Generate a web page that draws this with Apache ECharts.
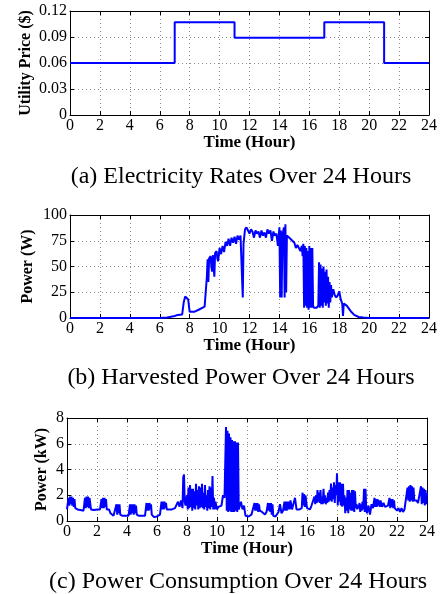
<!DOCTYPE html>
<html><head><meta charset="utf-8">
<script src="https://cdn.jsdelivr.net/npm/echarts@6/dist/echarts.min.js"></script>
<style>html,body{margin:0;padding:0;background:#fff}#c{width:440px;height:594px}</style>
</head><body><div id="c"></div>
<script>
// ---------- data ----------
const captions = ['(a) Electricity Rates Over 24 Hours', '(b) Harvested Power Over 24 Hours', '(c) Power Consumption Over 24 Hours'];
const yNames = ['Utility Price ($)', 'Power (W)', 'Power (kW)'];
const xName = 'Time (Hour)';
const hourRange = [0, 24, 2];           // min, max, tick step
const priceRange = [0, 0.12, 0.03];
const harvestRange = [0, 100, 25];
const consumptionRange = [0, 8, 2];

// utility price: [hour, $] (step changes)
const priceSteps = [[0, 0.06], [7, 0.107], [11, 0.089], [17, 0.107], [21, 0.06], [24, 0.06]];

// harvested power: [hour, W]
const harvestPower = [
 [0,0],[6,0],[6.5,0.5],[7,2],[7.2,3],[7.5,3.5],[7.6,15],[7.7,21],[7.8,22],[7.9,18],[8,6],[8.3,6],[8.6,8],[9,11],[9.1,12],
 [9.15,40],[9.2,57],[9.25,35],[9.3,58],[9.4,60],[9.45,50],[9.5,45],[9.55,61],[9.6,62],[9.65,40],[9.7,63],[9.8,65],[9.85,58],[9.9,55],
 [10,68],[10.1,62],[10.2,70],[10.3,64],[10.4,74],[10.5,70],[10.6,77],[10.7,70],[10.8,78],[10.9,73],[11,79],[11.1,72],[11.2,80],
 [11.3,76],[11.4,80],[11.5,81],[11.55,20],[11.6,72],[11.7,86],[11.8,88],[11.9,87],[12,82],[12.1,86],[12.2,84],[12.3,78],[12.4,85],
 [12.5,82],[12.6,84],[12.7,78],[12.8,85],[12.9,80],[13,83],[13.1,78],[13.2,86],[13.3,82],[13.4,85],[13.5,75],[13.6,84],[13.7,80],
 [13.8,82],[13.9,70],[14,88],[14.05,20],[14.1,85],[14.15,20],[14.2,80],[14.3,88],[14.35,20],[14.4,91],[14.45,25],[14.5,80],
 [14.6,79],[14.8,76],[15,73],[15.1,68],[15.2,71],[15.3,72],[15.4,65],[15.5,70],[15.55,60],[15.6,72],[15.65,10],[15.7,70],[15.75,12],
 [15.8,68],[15.85,10],[15.9,65],[15.95,8],[16,70],[16.05,10],[16.1,68],[16.15,10],[16.2,68],[16.25,12],[16.3,10],[16.4,11],[16.5,10],
 [16.6,12],[16.65,54],[16.7,10],[16.75,52],[16.8,12],[16.85,48],[16.9,10],[16.95,50],[17,15],[17.05,45],[17.1,12],[17.15,47],
 [17.2,14],[17.25,40],[17.3,10],[17.35,35],[17.4,15],[17.45,32],[17.5,20],[17.6,28],[17.7,22],[17.8,20],[17.9,22],[18,26],
 [18.1,18],[18.2,14],[18.25,2],[18.3,14],[18.5,12],[18.8,6],[19,3],[19.3,1],[19.6,0.5],[20,0],[24,0]
];

// power consumption: kW sampled every 0.1 hour from 0 to 24
const consumptionStepHours = 0.1;
const consumptionKW = [
 0.9,1.8,1.9,1.9,1.8,1.7,1.0,0.9,0.9,0.85,
 0.8,0.8,1.8,1.9,1.9,1.8,0.9,0.9,0.85,0.9,
 0.9,0.85,0.9,1.7,1.8,1.8,1.7,0.9,0.9,0.6,
 0.5,0.4,0.5,1.3,1.3,1.3,0.5,0.4,0.3,0.4,
 0.3,0.4,1.3,1.3,1.3,1.3,1.2,0.4,0.4,0.3,
 0.4,0.35,0.4,1.4,1.4,1.4,1.3,0.4,0.3,0.4,
 0.35,0.4,0.5,1.5,1.5,1.5,1.4,0.9,0.9,0.95,
 0.9,1.0,1.0,0.9,1.5,1.1,1.6,1.0,3.6,1.2,
 2.0,2.6,2.8,2.5,2.5,2.3,2.9,2.4,2.7,2.6,
 2.9,2.2,2.8,2.0,2.4,2.7,2.6,3.5,1.8,1.5,
 0.9,1.1,1.0,1.2,2.0,1.8,7.3,7.0,6.8,6.5,
 6.3,6.2,6.2,6.1,6.1,1.0,1.5,0.9,1.2,0.4,
 0.3,0.35,0.4,0.5,0.4,1.4,1.4,1.4,1.3,0.9,
 0.7,0.6,0.5,0.7,1.4,1.4,1.4,1.3,0.3,0.35,
 0.5,0.7,1.3,0.6,0.8,1.5,1.5,1.5,1.5,1.6,
 0.9,1.0,1.8,0.9,1.0,0.9,1.0,2.2,2.1,2.0,
 1.0,1.1,0.9,1.2,1.3,1.9,2.0,2.4,2.2,2.4,
 1.9,2.5,2.0,1.8,2.2,2.4,2.9,2.6,3.0,2.8,
 3.7,3.0,3.0,2.9,2.9,2.0,1.8,2.4,2.4,2.2,
 2.4,2.4,2.3,1.3,1.2,1.4,1.3,1.5,2.5,2.5,
 0.6,1.2,0.5,1.3,1.0,1.8,1.7,1.7,1.6,1.6,
 1.1,1.4,1.1,1.0,1.2,1.8,1.7,1.7,1.6,1.0,
 0.8,1.0,0.7,1.0,0.7,0.9,1.0,2.6,2.7,2.8,
 2.7,2.6,1.5,1.6,1.4,1.5,2.7,2.6,2.5,2.4,
 2.2
];
// extra in-between readings [hour, kW] where the load switches rapidly
const consumptionBursts = [
 [0.15,1.2],[0.25,1.3],[0.35,1.2],[0.45,1.1],[0.55,1.0],
 [1.25,1.0],[1.35,1.1],[1.45,1.0],
 [2.35,1.0],[2.45,1.0],[2.55,1.1],[2.65,0.9],
 [3.35,0.5],[3.45,0.6],[3.55,0.5],
 [4.25,0.5],[4.35,0.6],[4.45,0.5],[4.55,0.6],[4.65,0.5],
 [5.35,0.8],[5.45,0.8],[5.55,0.9],[5.65,0.5],
 [6.35,0.9],[6.45,0.9],[6.55,1.0],[6.65,0.9],
 [7.75,3.4],[7.85,1.5],
 [8.05,0.9],[8.15,1.0],[8.25,1.1],[8.35,0.8],[8.45,1.0],[8.55,0.9],[8.65,1.2],[8.75,0.9],[8.85,1.0],[8.95,1.1],
 [9.05,1.0],[9.15,0.9],[9.25,1.1],[9.35,0.8],[9.45,1.0],[9.55,0.9],[9.65,1.1],[9.75,0.9],[9.85,0.9],
 [10.65,0.8],[10.75,0.7],[10.85,0.8],[10.95,0.7],[11.05,0.7],[11.15,0.7],[11.25,0.8],[11.35,0.7],[11.45,0.9],
 [12.55,0.8],[12.65,0.8],[12.75,0.7],[12.85,0.8],
 [13.45,0.8],[13.55,0.7],[13.65,0.5],[13.75,0.4],
 [14.55,0.8],[14.65,0.8],[14.75,0.9],[14.85,0.9],
 [15.65,1.0],[15.75,1.2],[15.85,1.1],
 [16.55,1.3],[16.65,1.4],[16.75,1.5],[16.85,1.4],[16.95,1.3],
 [17.05,1.3],[17.15,1.4],[17.25,1.3],[17.35,1.4],[17.45,1.5],[17.55,1.6],[17.65,1.5],[17.75,1.7],[17.85,1.4],[17.95,2.0],
 [18.05,1.2],[18.15,1.5],[18.25,1.2],[18.35,1.1],[18.45,1.2],[18.55,0.6],[18.65,0.8],[18.75,0.6],[18.85,0.9],[18.95,0.8],
 [19.05,0.8],[19.15,0.7],[19.25,1.0],[19.35,0.9],[19.45,1.0],[19.55,0.7],[19.65,0.8],[19.75,0.9],[19.85,0.7],[19.95,0.9],
 [20.55,1.1],[20.65,1.1],[20.75,1.2],[20.85,1.1],
 [21.55,1.0],[21.65,1.1],[21.75,1.0],[21.85,1.0],
 [22.75,1.6],[22.85,1.5],[22.95,1.6],[23.05,1.5],[23.15,1.6],
 [23.65,1.3],[23.75,1.4],[23.85,1.2],[23.95,1.3]
];

// ---------- chart ----------
const FONT = '"Liberation Serif", "Times New Roman", serif';
const grids = [
  {left: 70, right: 11, top: 11, height: 104},
  {left: 70, right: 11, top: 215, height: 103},
  {left: 67, right: 13, top: 418, height: 103}
];
const yRanges = [priceRange, harvestRange, consumptionRange];
const yNameGaps = [36, 34, 17];
const captionTops = [165, 366, 570];
const captionCenters = [241, 241, 238];

const axisLine = {show: true, onZero: false, lineStyle: {color: '#000', width: 1}};
const tick = {show: true, inside: true, length: 4, lineStyle: {color: '#000', width: 1}};
const grid = {show: true, lineStyle: {type: [1, 3], color: '#8a8a8a', width: 1}};

const xAxis = [], yAxis = [];
grids.forEach((g, i) => {
  xAxis.push({
    type: 'value', gridIndex: i, position: 'bottom',
    min: hourRange[0], max: hourRange[1], interval: hourRange[2],
    axisLine, axisTick: tick, splitLine: grid,
    axisLabel: {color: '#000', fontFamily: FONT, fontSize: 16, margin: 3},
    name: xName, nameLocation: 'middle', nameGap: 19, nameMoveOverlap: false,
    nameTextStyle: {color: '#000', fontFamily: FONT, fontSize: 17, fontWeight: 'bold'}
  });
  xAxis.push({
    type: 'value', gridIndex: i, position: 'top',
    min: hourRange[0], max: hourRange[1], interval: hourRange[2],
    axisLine, axisTick: tick, splitLine: {show: false}, axisLabel: {show: false}
  });
  const r = yRanges[i];
  yAxis.push({
    type: 'value', gridIndex: i, position: 'left',
    min: r[0], max: r[1], interval: r[2],
    axisLine, axisTick: tick, splitLine: grid,
    axisLabel: {color: '#000', fontFamily: FONT, fontSize: 16, margin: 3},
    name: yNames[i], nameLocation: 'middle', nameGap: yNameGaps[i], nameRotate: 90, nameMoveOverlap: false,
    nameTextStyle: {color: '#000', fontFamily: FONT, fontSize: 16, fontWeight: 'bold'}
  });
  yAxis.push({
    type: 'value', gridIndex: i, position: 'right',
    min: r[0], max: r[1], interval: r[2],
    axisLine, axisTick: tick, splitLine: {show: false}, axisLabel: {show: false}
  });
});

const consumptionData = consumptionKW
  .map((v, i) => [+(i * consumptionStepHours).toFixed(2), v])
  .concat(consumptionBursts)
  .sort((a, b) => a[0] - b[0]);

const lineBase = {type: 'line', symbol: 'none', showSymbol: false, animation: false, silent: true};
const option = {
  animation: false,
  backgroundColor: '#fff',
  grid: grids,
  xAxis, yAxis,
  title: captions.map((t, i) => ({
    text: t, left: captionCenters[i], top: captionTops[i], textAlign: 'center', padding: 0,
    textStyle: {color: '#000', fontFamily: FONT, fontSize: 24, fontWeight: 'normal'}
  })),
  series: [
    Object.assign({}, lineBase, {xAxisIndex: 0, yAxisIndex: 0, step: 'end', data: priceSteps,
      lineStyle: {color: '#0000ff', width: 2}}),
    Object.assign({}, lineBase, {xAxisIndex: 2, yAxisIndex: 2, data: harvestPower,
      lineStyle: {color: '#0000ff', width: 2}}),
    Object.assign({}, lineBase, {xAxisIndex: 4, yAxisIndex: 4, data: consumptionData,
      lineStyle: {color: '#0000ff', width: 2}})
  ]
};
const chart = echarts.init(document.getElementById('c'), null, {renderer: 'canvas'});
chart.setOption(option);
</script>
</body></html>
